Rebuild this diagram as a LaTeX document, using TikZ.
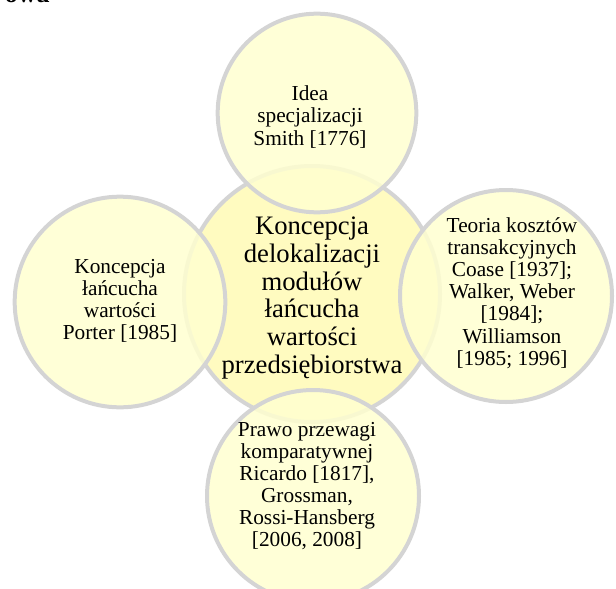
\documentclass[tikz,border=0pt]{standalone}
\usepackage{fontspec}
\setmainfont{Liberation Serif}
\usepackage{tikz}

\definecolor{ringfill}{RGB}{255,255,208}
\definecolor{hubfill}{RGB}{255,251,192}
\definecolor{ringline}{RGB}{212,212,212}

\begin{document}
\begin{tikzpicture}[x=0.75pt,y=-0.75pt,
  ring/.style={circle,draw=ringline,line width=3pt,fill=ringfill,fill opacity=0.85,inner sep=0pt},
  hub/.style={ring,fill=hubfill,fill opacity=1},
  note/.style={align=center,inner sep=0pt,font=\fontsize{16}{16.6}\selectfont},
  hubnote/.style={note,font=\fontsize{20}{20.8}\selectfont}]

\useasboundingbox (0,0) rectangle (616,588);
\clip (0,0) rectangle (616,588); % page cuts the lower circle

\node [anchor=base east,inner sep=0pt,font=\fontsize{19.5}{20}\selectfont\bfseries] (heading) at (50,3) {owa};

\node [hub, minimum size=192pt] (hub) at (312,294) {};
\node [ring, minimum size=149pt] (smith) at (317,113) {};
\node [ring, minimum size=158pt] (porter) at (120,302) {};
\node [ring, minimum size=159pt] (coase) at (506,296) {};
\node [ring, minimum size=159pt] (ricardo) at (313,496) {};

\node [hubnote] (hubtext) at (312,298) {Koncepcja\\delokalizacji\\modułów\\łańcucha\\wartości\\przedsiębiorstwa};
\node [note] (smithtext) at (310,117) {Idea\\specjalizacji\\Smith [1776]};
\node [note] (portertext) at (120,301) {Koncepcja\\łańcucha\\wartości\\Porter [1985]};
\node [note] (coasetext) at (512,293) {Teoria kosztów\\transakcyjnych\\Coase [1937];\\Walker, Weber\\ {[1984];}\\Williamson\\ {[1985; 1996]}};
\node [note] (ricardotext) at (307,486) {Prawo przewagi\\komparatywnej\\Ricardo [1817],\\Grossman,\\Rossi-Hansberg\\ {[2006, 2008]}};

\end{tikzpicture}
\end{document}
